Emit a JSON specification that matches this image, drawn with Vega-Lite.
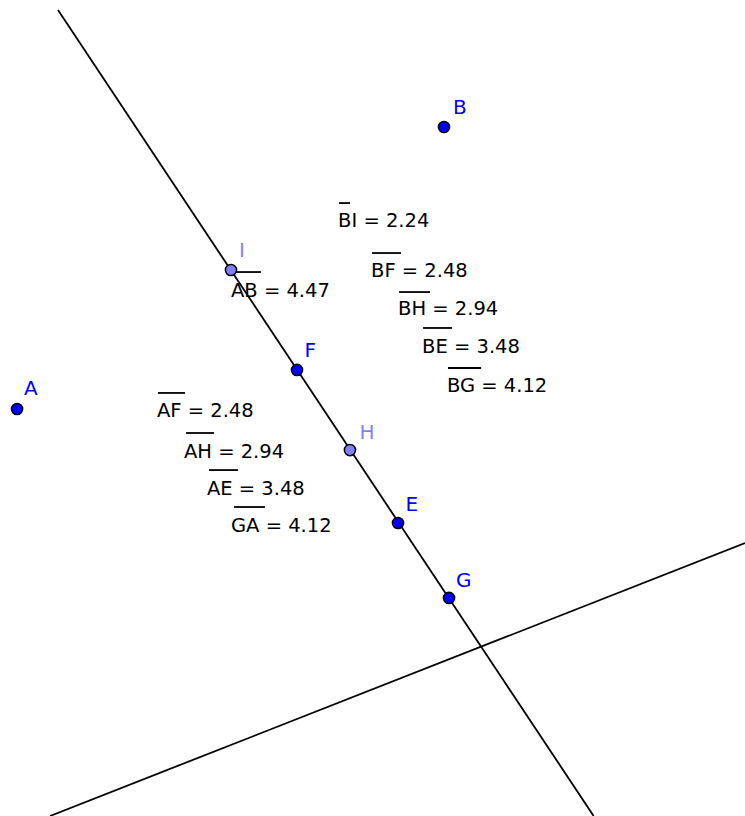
{
  "$schema": "https://vega.github.io/schema/vega-lite/v6.json",
  "width": 745,
  "height": 816,
  "autosize": {"type": "fit", "contains": "padding"},
  "padding": 0,
  "background": "white",
  "config": {"view": {"stroke": null}},
  "datasets": {
    "lines": [
      {"line": "l1", "x": 0.507, "y": 7.045},
      {"line": "l1", "x": 5.189, "y": 0.0},
      {"line": "l2", "x": 0.437, "y": 0.0},
      {"line": "l2", "x": 6.512, "y": 2.386}
    ],
    "measures": [
      {"label": "BI = 2.24", "x": 2.955, "y": 5.149, "ox1": 2.963, "ox2": 3.060, "oy": 5.358},
      {"label": "BF = 2.48", "x": 3.243, "y": 4.712, "ox1": 3.252, "ox2": 3.505, "oy": 4.921},
      {"label": "BH = 2.94", "x": 3.479, "y": 4.379, "ox1": 3.488, "ox2": 3.759, "oy": 4.580},
      {"label": "BE = 3.48", "x": 3.689, "y": 4.047, "ox1": 3.698, "ox2": 3.951, "oy": 4.266},
      {"label": "BG = 4.12", "x": 3.907, "y": 3.706, "ox1": 3.916, "ox2": 4.205, "oy": 3.916},
      {"label": "AB = 4.47", "x": 2.019, "y": 4.537, "ox1": 2.028, "ox2": 2.281, "oy": 4.755},
      {"label": "AF = 2.48", "x": 1.372, "y": 3.488, "ox1": 1.381, "ox2": 1.617, "oy": 3.698},
      {"label": "AH = 2.94", "x": 1.608, "y": 3.129, "ox1": 1.626, "ox2": 1.871, "oy": 3.348},
      {"label": "AE = 3.48", "x": 1.809, "y": 2.806, "ox1": 1.827, "ox2": 2.080, "oy": 3.024},
      {"label": "GA = 4.12", "x": 2.019, "y": 2.483, "ox1": 2.045, "ox2": 2.316, "oy": 2.701}
    ],
    "points": [
      {"name": "A", "kind": "free", "x": 0.149, "y": 3.558, "lx": 0.210, "ly": 3.680},
      {"name": "B", "kind": "free", "x": 3.881, "y": 6.023, "lx": 3.960, "ly": 6.136},
      {"name": "I", "kind": "dependent", "x": 2.019, "y": 4.773, "lx": 2.089, "ly": 4.886},
      {"name": "F", "kind": "free", "x": 2.596, "y": 3.899, "lx": 2.662, "ly": 4.012},
      {"name": "H", "kind": "dependent", "x": 3.059, "y": 3.199, "lx": 3.142, "ly": 3.295},
      {"name": "E", "kind": "free", "x": 3.479, "y": 2.561, "lx": 3.545, "ly": 2.666},
      {"name": "G", "kind": "free", "x": 3.925, "y": 1.906, "lx": 3.986, "ly": 2.002}
    ]
  },
  "layer": [
    {
      "data": {"name": "lines"},
      "mark": {"type": "line", "color": "black", "strokeWidth": 1.8, "clip": true},
      "encoding": {
        "x": {"field": "x", "type": "quantitative", "scale": {"domain": [0, 6.512], "nice": false, "zero": false}, "axis": null},
        "y": {"field": "y", "type": "quantitative", "scale": {"domain": [0, 7.133], "nice": false, "zero": false}, "axis": null},
        "detail": {"field": "line"}
      }
    },
    {
      "data": {"name": "measures"},
      "mark": {"type": "rule", "color": "black", "strokeWidth": 1.8},
      "encoding": {
        "x": {"field": "ox1", "type": "quantitative"},
        "x2": {"field": "ox2"},
        "y": {"field": "oy", "type": "quantitative"}
      }
    },
    {
      "data": {"name": "measures"},
      "mark": {"type": "text", "align": "left", "baseline": "alphabetic", "font": "DejaVu Sans", "fontSize": 19.5, "color": "black"},
      "encoding": {
        "x": {"field": "x", "type": "quantitative"},
        "y": {"field": "y", "type": "quantitative"},
        "text": {"field": "label"}
      }
    },
    {
      "data": {"name": "points"},
      "mark": {"type": "point", "shape": "circle", "filled": true, "size": 125, "stroke": "black", "strokeWidth": 1.5, "opacity": 1},
      "encoding": {
        "x": {"field": "x", "type": "quantitative"},
        "y": {"field": "y", "type": "quantitative"},
        "fill": {"field": "kind", "type": "nominal", "scale": {"domain": ["free", "dependent"], "range": ["#0000ff", "#7f7fff"]}, "legend": null}
      }
    },
    {
      "data": {"name": "points"},
      "mark": {"type": "text", "align": "left", "baseline": "alphabetic", "font": "DejaVu Sans", "fontSize": 20},
      "encoding": {
        "x": {"field": "lx", "type": "quantitative"},
        "y": {"field": "ly", "type": "quantitative"},
        "text": {"field": "name"},
        "color": {"field": "kind", "type": "nominal", "scale": {"domain": ["free", "dependent"], "range": ["#0000ff", "#7f7fff"]}, "legend": null}
      }
    }
  ]
}
